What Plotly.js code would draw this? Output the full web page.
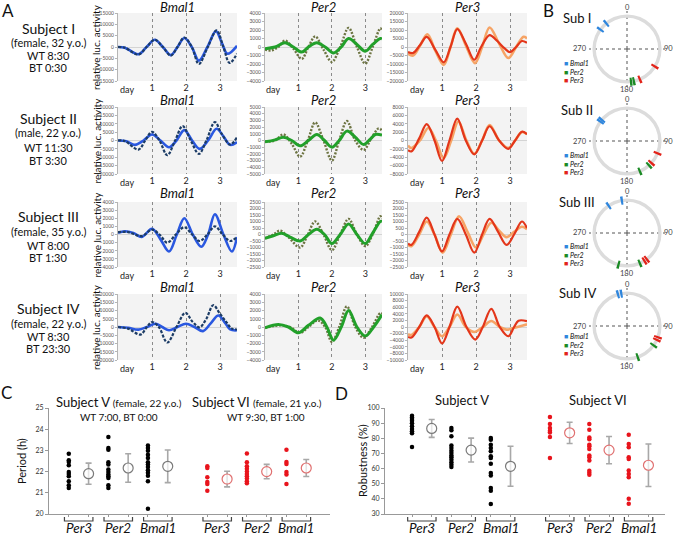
<!DOCTYPE html>
<html><head><meta charset="utf-8">
<script src="https://cdn.plot.ly/plotly-3.0.1.min.js"></script>
<style>html,body{margin:0;padding:0;background:#fff}</style>
</head><body><div id="chart" style="width:675px;height:536px"></div>
<script>
// ---------------- Panel A data: [day, relative luc. activity] ----------------
const I_Bmal1_dark  = [[0,0],[0.2,-300],[0.6,-3300],[0.84,0],[1.08,3200],[1.32,0],[1.55,-3800],[1.75,0],[1.95,4200],[2.17,0],[2.38,-7500],[2.64,0],[2.9,7300],[3.1,0],[3.28,-7000],[3.5,-3000]];
const I_Bmal1_light = [[0,0],[0.2,-300],[0.6,-3200],[0.84,0],[1.08,3200],[1.32,0],[1.55,-3600],[1.75,0],[1.95,4000],[2.17,0],[2.38,-6000],[2.63,0],[2.88,7000],[3.05,2000],[3.22,-3000],[3.5,500]];
const I_Per2_olive  = [[0,-300],[0.2,-400],[0.4,0],[0.6,750],[0.85,-200],[1.1,-1400],[1.3,0],[1.5,1250],[1.75,-300],[2.0,-1750],[2.25,0],[2.5,2250],[2.75,0],[3.0,-1950],[3.22,0],[3.45,2200],[3.5,1900]];
const I_Per2_green  = [[0,-200],[0.3,0],[0.6,500],[0.85,0],[1.1,-600],[1.3,0],[1.55,500],[1.8,0],[2.05,-700],[2.28,0],[2.5,1000],[2.75,300],[3.0,-500],[3.22,300],[3.45,1000],[3.5,950]];
const I_Per3_red    = [[0,-3000],[0.15,-3500],[0.35,1000],[0.55,6000],[0.8,-1500],[1.05,-9000],[1.25,0],[1.45,10500],[1.7,2000],[1.95,-7500],[2.15,0],[2.4,7000],[2.6,4000],[2.85,-1000],[3.0,-3000],[3.18,0],[3.35,3500],[3.5,2500]];
const I_Per3_orange = [[0,-4000],[0.15,-5000],[0.36,1000],[0.57,7500],[0.8,-2000],[1.05,-10500],[1.25,0],[1.45,11000],[1.7,1000],[1.97,-9500],[2.18,0],[2.4,11500],[2.68,2000],[2.95,-6500],[3.18,0],[3.4,6000],[3.5,5000]];

const II_Bmal1_dark  = [[0,0],[0.2,-300],[0.6,-5400],[0.8,0],[1.0,5200],[1.22,0],[1.45,-8800],[1.68,0],[1.9,8600],[2.14,0],[2.38,-8000],[2.6,0],[2.85,11000],[3.05,4000],[3.3,-2400],[3.5,2000]];
const II_Bmal1_light = [[0,0],[0.25,-500],[0.5,-2600],[0.75,0],[1.0,3600],[1.25,0],[1.5,-4000],[1.72,0],[1.95,6200],[2.18,0],[2.4,-5000],[2.65,0],[2.9,7000],[3.1,2500],[3.3,-2600],[3.5,-1000]];
const II_Per2_olive  = [[0,-200],[0.3,0],[0.55,900],[0.8,-500],[1.05,-2400],[1.28,0],[1.5,2700],[1.75,0],[2.0,-3000],[2.22,0],[2.45,2900],[2.7,0],[2.95,-1400],[3.2,500],[3.4,1800],[3.5,1500]];
const II_Per2_green  = [[0,-200],[0.3,100],[0.55,500],[0.8,0],[1.05,-800],[1.3,0],[1.55,900],[1.78,0],[2.0,-1000],[2.22,0],[2.45,1400],[2.7,500],[2.95,-600],[3.15,200],[3.3,900],[3.5,800]];
const II_Per3_red    = [[0,-2300],[0.1,-2600],[0.33,500],[0.55,3900],[0.78,0],[1.0,-4900],[1.22,0],[1.45,5200],[1.7,0],[1.95,-3300],[2.18,0],[2.4,3400],[2.68,0],[2.95,-2000],[3.15,0],[3.35,2100],[3.5,1500]];
const II_Per3_orange = [[0,-1200],[0.1,-1800],[0.35,0],[0.6,3000],[0.82,0],[1.05,-4200],[1.27,0],[1.48,4500],[1.72,0],[1.95,-3200],[2.18,0],[2.4,3700],[2.68,0],[2.95,-1800],[3.15,0],[3.35,2000],[3.5,1500]];

const III_Bmal1_dark  = [[0,300],[0.3,300],[0.7,-200],[1.0,600],[1.22,0],[1.45,-1000],[1.7,0],[1.95,900],[2.18,0],[2.4,-800],[2.63,0],[2.85,1000],[3.08,0],[3.3,-800],[3.5,-300]];
const III_Bmal1_light = [[0,200],[0.2,400],[0.45,200],[0.7,-300],[1.0,700],[1.25,-600],[1.5,-2100],[1.73,0],[1.95,2000],[2.2,0],[2.45,-1500],[2.65,0],[2.85,2500],[3.1,0],[3.35,-2100],[3.5,-300]];
const III_Per2_olive  = [[0,-300],[0.25,0],[0.45,300],[0.7,-200],[1.05,-1000],[1.28,0],[1.5,1000],[1.75,0],[2.0,-1200],[2.25,0],[2.5,1200],[2.75,0],[3.0,-900],[3.22,0],[3.45,1400],[3.5,1200]];
const III_Per2_green  = [[0,-300],[0.25,-100],[0.5,100],[0.75,-200],[1.05,-500],[1.3,0],[1.55,400],[1.78,0],[2.0,-700],[2.25,0],[2.5,800],[2.75,0],[3.0,-700],[3.22,100],[3.45,1000],[3.5,1000]];
const III_Per3_red    = [[0,-700],[0.1,-800],[0.33,200],[0.55,1300],[0.78,0],[1.0,-1300],[1.22,0],[1.45,1200],[1.7,0],[1.95,-1400],[2.18,0],[2.4,1200],[2.65,200],[2.9,-800],[3.12,0],[3.35,1000],[3.5,500]];
const III_Per3_orange = [[0,-800],[0.1,-900],[0.33,0],[0.55,1000],[0.78,0],[1.02,-1400],[1.26,0],[1.5,1400],[1.75,200],[2.0,-1000],[2.22,0],[2.45,900],[2.68,300],[2.9,-200],[3.12,200],[3.35,600],[3.5,400]];

const IV_Bmal1_dark  = [[0,0],[0.3,-1000],[0.66,-4600],[0.85,0],[1.0,3000],[1.2,0],[1.45,-9400],[1.72,0],[1.98,8600],[2.2,3000],[2.4,-200],[2.6,5000],[2.8,13200],[3.0,8000],[3.2,2600],[3.35,-1000],[3.5,-1500]];
const IV_Bmal1_light = [[0,0],[0.3,-500],[0.6,-1600],[0.85,0],[1.1,2000],[1.3,0],[1.5,-2000],[1.75,0],[2.0,2000],[2.25,0],[2.5,-2500],[2.72,2000],[2.95,7000],[3.15,2500],[3.3,-1500],[3.5,-2000]];
const IV_Per2_olive  = [[0,-100],[0.25,100],[0.5,200],[0.75,0],[1.05,-700],[1.3,0],[1.58,800],[1.8,0],[2.0,-1800],[2.22,0],[2.45,2500],[2.7,0],[2.95,-1300],[3.2,0],[3.45,1700],[3.5,1600]];
const IV_Per2_green  = [[0,-100],[0.4,300],[0.7,0],[1.0,-700],[1.3,200],[1.65,1100],[1.85,0],[2.05,-1600],[2.28,0],[2.5,2000],[2.75,0],[3.0,-1100],[3.25,0],[3.5,1500]];
const IV_Per3_red    = [[0,-3000],[0.1,-3200],[0.33,0],[0.55,3500],[0.78,0],[1.0,-5000],[1.22,0],[1.45,6200],[1.72,0],[1.98,-3800],[2.2,0],[2.45,5500],[2.7,0],[2.95,-2800],[3.12,0],[3.25,1900],[3.5,1800]];
const IV_Per3_orange = [[0,-2200],[0.1,-2400],[0.33,0],[0.55,3200],[0.78,0],[1.0,-2800],[1.22,0],[1.45,3800],[1.7,0],[1.95,-1500],[2.2,0],[2.45,1800],[2.7,0],[2.9,-800],[3.1,-300],[3.3,200],[3.5,800]];

const genesA = ['Bmal1','Per2','Per3'];
const subjectNames = ['Subject I','Subject II','Subject III','Subject IV'];
const subjectInfo = [
  ['(female, 32 y.o.)','WT 8:30','BT 0:30'],
  ['(male, 22 y.o.)','WT 11:30','BT 3:30'],
  ['(female, 35 y.o.)','WT 8:00','BT 1:30'],
  ['(female, 22 y.o.)','WT 8:30','BT 23:30']];
const yMaxA   = [[15000,4000,20000],[20000,5000,8000],[4000,2500,2500],[20000,4000,10000]];
const yDtickA = [[5000,1000,5000],[5000,1000,2000],[1000,500,500],[5000,1000,2000]];
const dayTicks = [1,2,3];

// ---------------- Panel B data: phases (degrees) ----------------
const subLabelsB = ['Sub I','Sub II','Sub III','Sub IV'];
const angleLabels = ['0','90','180','270'];
const phaseI_Bmal1 = [306,321],   phaseI_Per2 = [168,173],   phaseI_Per3 = [122,157];
const phaseII_Bmal1 = [306,310],  phaseII_Per2 = [138,157],  phaseII_Per3 = [112,132];
const phaseIII_Bmal1 = [326,351], phaseIII_Per2 = [157,195], phaseIII_Per3 = [143,148];
const phaseIV_Bmal1 = [344,350],  phaseIV_Per2 = [126,161],  phaseIV_Per3 = [110,115];

// ---------------- Panel C data: period (h) ----------------
const genesCD = ['Per3','Per2','Bmal1'];
const periodV_Per3  = [22.84,22.53,22.45,22.3,21.98,21.89,21.78,21.55,21.36,21.23];
const periodV_Per2  = [23.63,23.11,23.03,22.44,22.33,22.1,21.98,21.86,21.78,21.7,21.36,21.23];
const periodV_Bmal1 = [23.23,23.11,22.98,22.8,22.64,22.44,22.33,22.22,22.06,21.94,21.81,21.55,20.25];
const periodVI_Per3  = [22.25,22.17,21.73,21.51,21.42,21.1];
const periodVI_Per2  = [22.85,22.44,22.25,22.14,22.01,21.89,21.78,21.67,21.54,21.45];
const periodVI_Bmal1 = [23.03,22.45,22.36,21.98,21.86,21.42];
const periodMeanV = [21.9,22.17,22.25],  periodSdV = [0.5,0.67,0.77];
const periodMeanVI = [21.65,22.0,22.17], periodSdVI = [0.37,0.34,0.4];

// ---------------- Panel D data: robustness (%) ----------------
const robV_Per3  = [94.9,93.8,92.7,91.6,89.9,87.9,86.1,84.6,83.3,74.2];
const robV_Per2  = [86.8,85.3,81.3,75.3,73.6,71.8,70.3,68.7,67.4,65.9,64.1,62.6,61.0];
const robV_Bmal1 = [80.2,79.1,75.8,73.6,71.4,68.1,67.0,63.2,57.1,55.5,47.2,45.4,36.6];
const robVI_Per3  = [94.1,89.4,86.8,85.0,83.9,80.8,67.0];
const robVI_Per2  = [89.4,85.7,80.6,79.3,75.8,74.7,72.9,68.7,67.4,65.4,58.6,57.3,56.0];
const robVI_Bmal1 = [82.4,76.2,74.0,67.4,66.3,58.8,56.4,54.2,40.0,36.8];
const robMeanV = [86.5,72.2,61.5],  robSdV = [5.9,7.9,13.2];
const robMeanVI = [83.6,72.2,62.2], robSdVI = [7.0,9.0,14.0];

// ================= build =================
const W = 675, H = 536;
const px = x => x / W;
const py = y => 1 - y / H;
const FONT = 'Lato, "Open Sans", "Liberation Sans", sans-serif';

const traces = [], shapes = [], ann = [];
const layout = {
  width: W, height: H, margin: {l:0, r:0, t:0, b:0},
  paper_bgcolor: '#fff', plot_bgcolor: 'rgba(0,0,0,0)',
  showlegend: false, font: {family: FONT, color: '#111'}
};

function txt(x, y, text, size, extra) {
  ann.push(Object.assign({xref:'paper', yref:'paper', x:px(x), y:py(y), text:text, showarrow:false,
    font:{size:size, family:FONT, color:'#111'}, xanchor:'center', yanchor:'middle'}, extra || {}));
}

// ---- Panel A ----
const seriesA = [
  [[I_Bmal1_light, I_Bmal1_dark], [I_Per2_olive, I_Per2_green], [I_Per3_orange, I_Per3_red]],
  [[II_Bmal1_light, II_Bmal1_dark], [II_Per2_olive, II_Per2_green], [II_Per3_orange, II_Per3_red]],
  [[III_Bmal1_light, III_Bmal1_dark], [III_Per2_olive, III_Per2_green], [III_Per3_orange, III_Per3_red]],
  [[IV_Bmal1_light, IV_Bmal1_dark], [IV_Per2_olive, IV_Per2_green], [IV_Per3_orange, IV_Per3_red]]];
const stylesA = [
  [{color:'#2a58e0', width:2.6, dash:'solid'}, {color:'#1c3c66', width:2.2, dash:'3px,1.5px'}],
  [{color:'#6d7442', width:2.4, dash:'2px,1.5px'},  {color:'#22a02a', width:3, dash:'solid'}],
  [{color:'#f6a466', width:2.6, dash:'solid'}, {color:'#e3361a', width:2.2, dash:'solid'}]];
const rowTop = [13,107,202,294], rowBot = [81,174,267,360];
const colL = [118,265,408], colR = [237,382,527];
const titleY = [7,100,193,287];

for (let r = 0; r < 4; r++) {
  for (let c = 0; c < 3; c++) {
    const k = r*3 + c + 1;
    const sx = k === 1 ? '' : String(k);
    layout['xaxis'+sx] = {domain:[px(colL[c]), px(colR[c])], range:[0,3.5], tickvals:dayTicks,
      showgrid:true, gridcolor:'#8a8a8a', griddash:'dot', gridwidth:1, zeroline:false, showline:false,
      ticks:'', tickfont:{size:9, color:'#222', family:FONT}, anchor:'y'+sx, fixedrange:true};
    layout['yaxis'+sx] = {domain:[py(rowBot[r]), py(rowTop[r])], range:[-yMaxA[r][c], yMaxA[r][c]],
      dtick:yDtickA[r][c], tickformat:'d', showgrid:false, zeroline:true, zerolinecolor:'#d4d4d4', zerolinewidth:1,
      showline:true, linecolor:'#b5b5b5', ticks:'outside', ticklen:2, tickcolor:'#b5b5b5',
      tickfont:{size:5, color:'#555', family:FONT}, anchor:'x'+sx, fixedrange:true};
    shapes.push({type:'rect', xref:'x'+sx+' domain', yref:'y'+sx+' domain', x0:0, x1:1, y0:0, y1:1,
      fillcolor:'#f3f3f3', line:{width:0}, layer:'below'});
    seriesA[r][c].forEach((s, i) => {
      const st = stylesA[c][i];
      traces.push({type:'scatter', mode:'lines', xaxis:'x'+sx, yaxis:'y'+sx,
        x: s.map(p => p[0]), y: s.map(p => p[1]),
        line:{color:st.color, width:st.width, dash:st.dash, shape:'spline', smoothing:1}, hoverinfo:'skip'});
    });
    ann.push({xref:'x'+sx, yref:'paper', x:0.25, y:py(rowBot[r]+8), text:'day', showarrow:false,
      font:{size:9, color:'#222', family:FONT}, xanchor:'center', yanchor:'middle'});
    txt((colL[c]+colR[c])/2, titleY[r], '<i>'+genesA[c]+'</i>', 13);
  }
  txt(96, (rowTop[r]+rowBot[r])/2, 'relative luc. activity', 10, {textangle:-90});
}
const subjY = [[28,43,55,67],[119,133,147,160],[216,232,245,257],[308,323,336,348]];
for (let r = 0; r < 4; r++) {
  txt(48, subjY[r][0], subjectNames[r], 14);
  for (let j = 0; j < 3; j++) txt(48, subjY[r][j+1], subjectInfo[r][j], 11);
}

// ---- Panel B ----
const phasesB = [
  [phaseI_Bmal1, phaseI_Per2, phaseI_Per3],
  [phaseII_Bmal1, phaseII_Per2, phaseII_Per3],
  [phaseIII_Bmal1, phaseIII_Per2, phaseIII_Per3],
  [phaseIV_Bmal1, phaseIV_Per2, phaseIV_Per3]];
const colorsB = ['#2f86dd', '#1b8a25', '#e2231a'];
const genesB = ['Bmal1','Per2','Per3'];
const centersB = [49,141,233,326];
const CX = 627, RD = 38;
const subLabelY = [18,110,202,293];
const legendY = [[63,71.5,80],[155,163.5,172],[246,254.5,263],[336,344.5,353]];
for (let s = 0; s < 4; s++) {
  const pid = s === 0 ? 'polar' : 'polar' + (s+1);
  const cy = centersB[s];
  layout[pid] = {domain:{x:[px(CX-RD), px(CX+RD)], y:[py(cy+RD), py(cy-RD)]}, bgcolor:'rgba(0,0,0,0)', barmode:'overlay',
    radialaxis:{visible:false, range:[0,1.12]},
    angularaxis:{rotation:90, direction:'clockwise', tickvals:[0,90,180,270], showticklabels:false,
      showgrid:true, gridcolor:'#555', griddash:'dot', gridwidth:1, showline:false, ticks:''}};
  traces.push({type:'barpolar', subplot:pid, theta:[0], r:[0.1], base:[0.92], width:[360],
    marker:{color:'#dcdcdc', line:{width:0}}, hoverinfo:'skip'});
  phasesB[s].forEach((ph, g) => {
    traces.push({type:'barpolar', subplot:pid, theta:ph, r:ph.map(() => 0.24), base:ph.map(() => 0.85),
      width:ph.map(() => 4), marker:{color:colorsB[g], line:{width:0}}, hoverinfo:'skip'});
    txt(563, legendY[s][g], '<span style="color:'+colorsB[g]+'">■</span> <i>'+genesB[g]+'</i>', 7, {xanchor:'left', borderpad:0});
  });
  const lab = {size:7.5, color:'#444', family:FONT};
  ann.push({xref:'paper', yref:'paper', x:px(CX), y:py(cy-41.5), text:angleLabels[0], showarrow:false, font:lab, xanchor:'center', yanchor:'middle', borderpad:0});
  ann.push({xref:'paper', yref:'paper', x:px(CX+RD-2), y:py(cy), text:angleLabels[1], showarrow:false, font:lab, xanchor:'left', yanchor:'middle', borderpad:0});
  ann.push({xref:'paper', yref:'paper', x:px(CX), y:py(cy+40.5), text:angleLabels[2], showarrow:false, font:lab, xanchor:'center', yanchor:'middle', borderpad:0});
  ann.push({xref:'paper', yref:'paper', x:px(CX-RD-1), y:py(cy), text:angleLabels[3], showarrow:false, font:lab, xanchor:'right', yanchor:'middle', borderpad:0});
  txt(577, subLabelY[s], subLabelsB[s], 13);
}

// ---- Panels C & D ----
function groupPanel(k, domX, rangeX, rangeY, dtick, dataV, dataVI, meanV, sdV, meanVI, sdVI) {
  const sx = String(k);
  const tickpos = [];
  [0,7].forEach(o => { for (let i = 0; i < 6; i++) tickpos.push(o+i); });
  layout['xaxis'+sx] = {domain:domX, range:rangeX, tickvals:tickpos, showticklabels:false, ticks:'outside',
    ticklen:2, tickcolor:'#999', showline:true, linecolor:'#999', showgrid:false, zeroline:false, anchor:'y'+sx, fixedrange:true};
  layout['yaxis'+sx] = {domain:[py(514), py(408)], range:rangeY, dtick:dtick, showline:true, linecolor:'#999',
    ticks:'outside', ticklen:3, tickcolor:'#999', showgrid:false, zeroline:false,
    tickfont:{size:7, color:'#333', family:FONT}, anchor:'x'+sx, fixedrange:true};
  const groups = [[dataV, meanV, sdV, '#000', '#7a7a7a', 0], [dataVI, meanVI, sdVI, '#e8141c', '#e07070', 7]];
  groups.forEach(([data, mean, sd, dotc, circ, off]) => {
    data.forEach((vals, i) => {
      traces.push({type:'scatter', mode:'markers', xaxis:'x'+sx, yaxis:'y'+sx,
        x: vals.map(() => off + 2*i), y: vals, marker:{size:4.5, color:dotc}, hoverinfo:'skip'});
      const d = off + 2*i, m = d + 1;
      shapes.push({type:'path', xref:'x'+sx, yref:'paper',
        path:`M ${d-0.22},${py(517)} L ${d-0.22},${py(521)} L ${m+0.22},${py(521)} L ${m+0.22},${py(517)}`,
        line:{color:'#444', width:1.2}});
      ann.push({xref:'x'+sx, yref:'paper', x:d+0.5, y:py(527.5), text:'<i>'+genesCD[i]+'</i>', showarrow:false,
        font:{size:13.5, color:'#111', family:FONT}, xanchor:'center', yanchor:'middle', borderpad:0});
    });
    traces.push({type:'scatter', mode:'markers', xaxis:'x'+sx, yaxis:'y'+sx,
      x: mean.map((_, i) => off + 2*i + 1), y: mean,
      error_y:{type:'data', array:sd, visible:true, color:'#a8a8a8', thickness:1.6, width:3},
      marker:{size:10, color:'rgba(255,255,255,0.7)', line:{color:circ, width:1.2}}, hoverinfo:'skip'});
  });
}
groupPanel(13, [px(49), px(330)], [-1, 13.2], [20,25], 1,
  [periodV_Per3, periodV_Per2, periodV_Bmal1], [periodVI_Per3, periodVI_Per2, periodVI_Bmal1],
  periodMeanV, periodSdV, periodMeanVI, periodSdVI);
groupPanel(14, [px(385), px(665)], [-1.37, 12.84], [30,100], 10,
  [robV_Per3, robV_Per2, robV_Bmal1], [robVI_Per3, robVI_Per2, robVI_Bmal1],
  robMeanV, robSdV, robMeanVI, robSdVI);

txt(119, 402, 'Subject V <span style="font-size:10px">(female, 22 y.o.)</span>', 13);
txt(119, 417, 'WT 7:00, BT 0:00', 10);
txt(257, 402, 'Subject VI <span style="font-size:10px">(female, 21 y.o.)</span>', 13);
txt(266, 417, 'WT 9:30, BT 1:00', 10);
txt(21, 461, 'Period (h)', 11, {textangle:-90});
txt(462, 400, 'Subject V', 13);
txt(598, 400, 'Subject VI', 13);
txt(362, 461, 'Robustness (%)', 11, {textangle:-90});

// panel letters
txt(8, 10, 'A', 17); txt(548, 10, 'B', 17); txt(6, 392, 'C', 17); txt(341, 393, 'D', 17);

layout.shapes = shapes;
layout.annotations = ann;
Plotly.newPlot('chart', traces, layout, {staticPlot:true, displayModeBar:false});
</script></body></html>
